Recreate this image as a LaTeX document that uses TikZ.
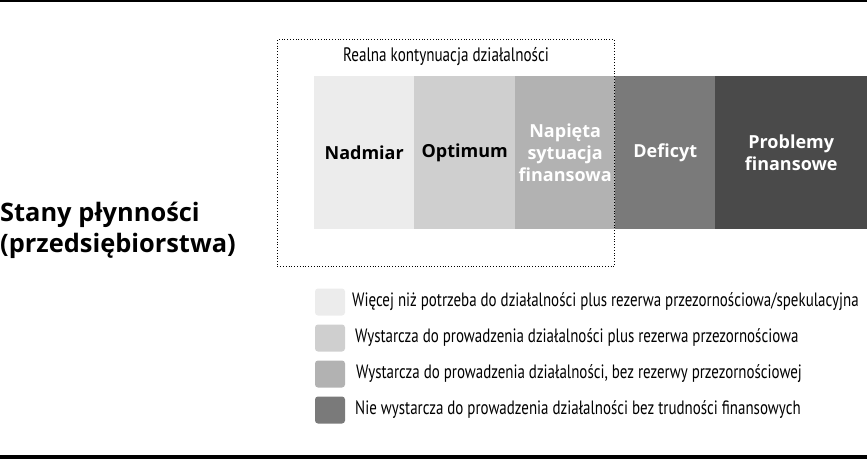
\documentclass[tikz,border=0pt]{standalone}
\usepackage{fontspec}
\setmainfont{Open Sans}
\newfontfamily\narrowfont[FakeStretch=0.775]{PT Sans}
\definecolor{shadeA}{HTML}{ECECEC}
\definecolor{shadeB}{HTML}{CFCFCF}
\definecolor{shadeC}{HTML}{B2B2B2}
\definecolor{shadeD}{HTML}{7A7A7A}
\definecolor{shadeE}{HTML}{4A4A4A}
\begin{document}
\begin{tikzpicture}[x=1pt,y=-1pt,
  bar/.style={anchor=north west, inner sep=0pt, minimum height=153pt,
    font=\fontsize{18}{22}\selectfont\bfseries, align=center},
  darkbar/.style={bar, text=white},
  swatch/.style={inner sep=0pt, minimum width=30pt, minimum height=27pt,
    rounded corners=3pt},
  legtext/.style={anchor=west, inner sep=0pt,
    font=\narrowfont\fontsize{19.3}{22}\selectfont},
  title/.style={anchor=west, inner sep=0pt,
    font=\fontsize{25.4}{30}\selectfont\bfseries}]
\useasboundingbox (0,0) rectangle (867,459);
% rules at the top and bottom
\fill[black] (0,0) rectangle (867,2);
\fill[black] (0,455) rectangle (867,459);

% liquidity states as adjacent bars
\node[bar, fill=shadeA, minimum width=100pt] (nadmiar) at (314,76) {Nadmiar};
\node[bar, fill=shadeB, minimum width=101pt] (optimum) at (414,76) {Optimum};
\node[darkbar, fill=shadeC, minimum width=100pt] (napieta) at (515,76)
  {Napięta\\sytuacja\\finansowa};
\node[darkbar, fill=shadeD, minimum width=100pt] (deficyt) at (615,76) {Deficyt};
\node[darkbar, fill=shadeE, minimum width=152pt] (problemy) at (715,76)
  {Problemy\\finansowe};

% dotted frame: real continuation of operations
\node[draw, dotted, line width=0.8pt, anchor=north west, inner sep=0pt,
  minimum width=337pt, minimum height=227pt] (frame) at (277,39) {};
\node[inner sep=0pt, font=\narrowfont\fontsize{19.5}{22}\selectfont]
  (framelabel) at (446,57) {Realna kontynuacja działalności};

% title on the left
\node[title] (title1) at (0,215) {Stany płynności};
\node[title] (title2) at (0,246) {(przedsiębiorstwa)};

% legend
\node[swatch, fill=shadeA] (sw1) at (330,302) {};
\node[swatch, fill=shadeB] (sw2) at (330,338) {};
\node[swatch, fill=shadeC] (sw3) at (330,374) {};
\node[swatch, fill=shadeD] (sw4) at (330,410) {};
\node[legtext] (lt1) at (352,302) {Więcej niż potrzeba do działalności plus rezerwa przezornościowa/spekulacyjna};
\node[legtext] (lt2) at (355,338) {Wystarcza do prowadzenia działalności plus rezerwa przezornościowa};
\node[legtext] (lt3) at (356,374) {Wystarcza do prowadzenia działalności, bez rezerwy przezornościowej};
\node[legtext] (lt4) at (355,410) {Nie wystarcza do prowadzenia działalności bez trudności finansowych};
\end{tikzpicture}
\end{document}
